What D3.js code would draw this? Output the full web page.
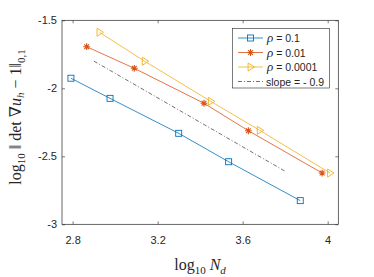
<!DOCTYPE html>
<html>
<head>
<meta charset="utf-8">
<script src="https://cdn.jsdelivr.net/npm/d3@7"></script>
<style>
  body { margin: 0; background: #fff; }
  svg { display: block; }
  .tick text { font-family: "Liberation Sans", Arial, sans-serif; font-size: 11px; fill: #262626; }
</style>
</head>
<body>
<div id="chart"></div>
<script>
// data (log10 values)
const nd01 = [2.792, 2.976, 3.299, 3.534, 3.871];
const err01 = [-1.926, -2.074, -2.331, -2.540, -2.826];
const nd001 = [2.866, 3.090, 3.418, 3.627, 3.974];
const err001 = [-1.694, -1.853, -2.110, -2.312, -2.623];
const nd00001 = [2.926, 3.139, 3.450, 3.680, 4.011];
const err00001 = [-1.588, -1.801, -2.096, -2.309, -2.623];
const slopeX = [2.9, 3.8];
const slopeY = [-1.8, -2.61];
const xTicks = [2.8, 3.2, 3.6, 4];
const yTicks = [-1.5, -2, -2.5, -3];
const legendLabels = ['= 0.1', '= 0.01', '= 0.0001', 'slope = - 0.9'];

const W = 374, H = 277;
const box = { left: 62, right: 338.3, top: 20.3, bottom: 224.3 };

const svg = d3.select('#chart').append('svg').attr('width', W).attr('height', H);

const x = d3.scaleLinear().domain([2.75, 4.05]).range([box.left, box.right]);
const y = d3.scaleLinear().domain([-3, -1.5]).range([box.bottom, box.top]);

const axisColor = '#262626';

// -----------
// EJES
// -----------
function styleAxis(g, hideText) {
  g.select('.domain').remove();
  g.selectAll('.tick line').attr('stroke', axisColor).attr('stroke-width', 0.6);
  if (hideText) g.selectAll('.tick text').remove();
}
svg.append('g').attr('transform', `translate(0,${box.bottom})`)
  .call(d3.axisBottom(x).tickValues(xTicks).tickFormat(d3.format('')).tickSizeInner(-3).tickPadding(12))
  .call((g) => styleAxis(g, false));
svg.append('g').attr('transform', `translate(0,${box.top})`)
  .call(d3.axisTop(x).tickValues(xTicks).tickSizeInner(-3))
  .call((g) => styleAxis(g, true));
svg.append('g').attr('transform', `translate(${box.left},0)`)
  .call(d3.axisLeft(y).tickValues(yTicks).tickFormat(d3.format('')).tickSizeInner(-3).tickPadding(5))
  .call((g) => styleAxis(g, false));
svg.append('g').attr('transform', `translate(${box.right},0)`)
  .call(d3.axisRight(y).tickValues(yTicks).tickSizeInner(-3))
  .call((g) => styleAxis(g, true));

svg.selectAll('.tick text').text(function () {
  return d3.select(this).text().replace('−', '-');
});

svg.append('rect')
  .attr('x', box.left).attr('y', box.top)
  .attr('width', box.right - box.left).attr('height', box.bottom - box.top)
  .attr('fill', 'none').attr('stroke', axisColor).attr('stroke-width', 0.7);

// -----------
// MARCADORES
// -----------
function drawMarker(g, kind, cx, cy, color) {
  if (kind === 'square') {
    g.append('rect').attr('x', cx - 3).attr('y', cy - 3).attr('width', 6).attr('height', 6)
      .attr('fill', 'none').attr('stroke', color).attr('stroke-width', 0.9);
  } else if (kind === 'star') {
    const r = 3.4;
    let p = '';
    [0, 45, 90, 135].forEach((a) => {
      const t = a * Math.PI / 180;
      p += `M${cx - r * Math.cos(t)},${cy - r * Math.sin(t)}L${cx + r * Math.cos(t)},${cy + r * Math.sin(t)}`;
    });
    g.append('path').attr('d', p).attr('stroke', color).attr('stroke-width', 1.1).attr('fill', 'none');
  } else {
    const r = 4;
    g.append('path')
      .attr('d', `M${cx - r * 0.6},${cy - r}L${cx + r},${cy}L${cx - r * 0.6},${cy + r}Z`)
      .attr('fill', 'none').attr('stroke', color).attr('stroke-width', 0.9);
  }
}

const series = [
  { xs: nd01, ys: err01, color: '#0072BD', marker: 'square' },
  { xs: nd001, ys: err001, color: '#D95319', marker: 'star' },
  { xs: nd00001, ys: err00001, color: '#EDB120', marker: 'tri' },
];

const line = d3.line().x((d) => x(d[0])).y((d) => y(d[1]));

series.forEach((s) => {
  const pts = s.xs.map((v, i) => [v, s.ys[i]]);
  const g = svg.append('g');
  g.append('path').attr('d', line(pts)).attr('fill', 'none')
    .attr('stroke', s.color).attr('stroke-width', 0.8);
  pts.forEach((p) => drawMarker(g, s.marker, x(p[0]), y(p[1]), s.color));
});

svg.append('path')
  .attr('d', line(slopeX.map((v, i) => [v, slopeY[i]])))
  .attr('fill', 'none').attr('stroke', '#333').attr('stroke-width', 0.7)
  .attr('stroke-dasharray', '4,2,1,2');

// -----------
// LEYENDA
// -----------
const leg = { x: 232.5, y: 28.5, w: 97, h: 59.5 };
svg.append('rect').attr('x', leg.x).attr('y', leg.y).attr('width', leg.w).attr('height', leg.h)
  .attr('fill', '#fff').attr('stroke', axisColor).attr('stroke-width', 0.6);

const legendRows = [38, 52.5, 67, 81.5];
legendLabels.forEach((lbl, i) => {
  const ry = legendRows[i];
  const g = svg.append('g');
  if (i < 3) {
    const s = series[i];
    g.append('line').attr('x1', 238).attr('x2', 263).attr('y1', ry).attr('y2', ry)
      .attr('stroke', s.color).attr('stroke-width', 0.8);
    drawMarker(g, s.marker, 250.5, ry, s.color);
    const t = g.append('text').attr('x', 267).attr('y', ry + 4)
      .attr('font-family', '"Liberation Sans", Arial, sans-serif').attr('font-size', 10.5).attr('fill', '#262626');
    t.append('tspan').text('ρ').attr('font-family', '"Liberation Serif", serif')
      .attr('font-style', 'italic').attr('font-size', 13);
    t.append('tspan').text(' ' + lbl);
  } else {
    g.append('line').attr('x1', 238).attr('x2', 263).attr('y1', ry).attr('y2', ry)
      .attr('stroke', '#333').attr('stroke-width', 0.7).attr('stroke-dasharray', '4,2,1,2');
    g.append('text').attr('x', 266).attr('y', ry + 4)
      .attr('font-family', '"Liberation Sans", Arial, sans-serif').attr('font-size', 10.5)
      .attr('fill', '#262626').text(lbl);
  }
});

// -----------
// ETIQUETAS
// -----------
const serif = '"Liberation Serif", "DejaVu Serif", serif';
const xl = svg.append('text').attr('x', 200).attr('y', 270).attr('text-anchor', 'middle')
  .attr('font-family', serif).attr('font-size', 16).attr('fill', '#262626');
xl.append('tspan').text('log');
xl.append('tspan').text('10').attr('font-size', 11).attr('dy', 4);
xl.append('tspan').text(' N').attr('font-style', 'italic').attr('dy', -4);
xl.append('tspan').text('d').attr('font-style', 'italic').attr('font-size', 11).attr('dy', 4);

const yl = svg.append('text').attr('transform', 'translate(21,117) rotate(-90)')
  .attr('text-anchor', 'middle')
  .attr('font-family', serif).attr('font-size', 16).attr('fill', '#262626');
yl.append('tspan').text('log');
yl.append('tspan').text('10').attr('font-size', 11).attr('dy', 4);
yl.append('tspan').text(' ‖ det ∇').attr('dy', -4);
yl.append('tspan').text('u').attr('font-style', 'italic');
yl.append('tspan').text('h').attr('font-style', 'italic').attr('font-size', 11).attr('dy', 3);
yl.append('tspan').text(' − 1‖').attr('dy', -3);
yl.append('tspan').text('0,1').attr('font-size', 11).attr('dy', 4);
</script>
</body>
</html>
